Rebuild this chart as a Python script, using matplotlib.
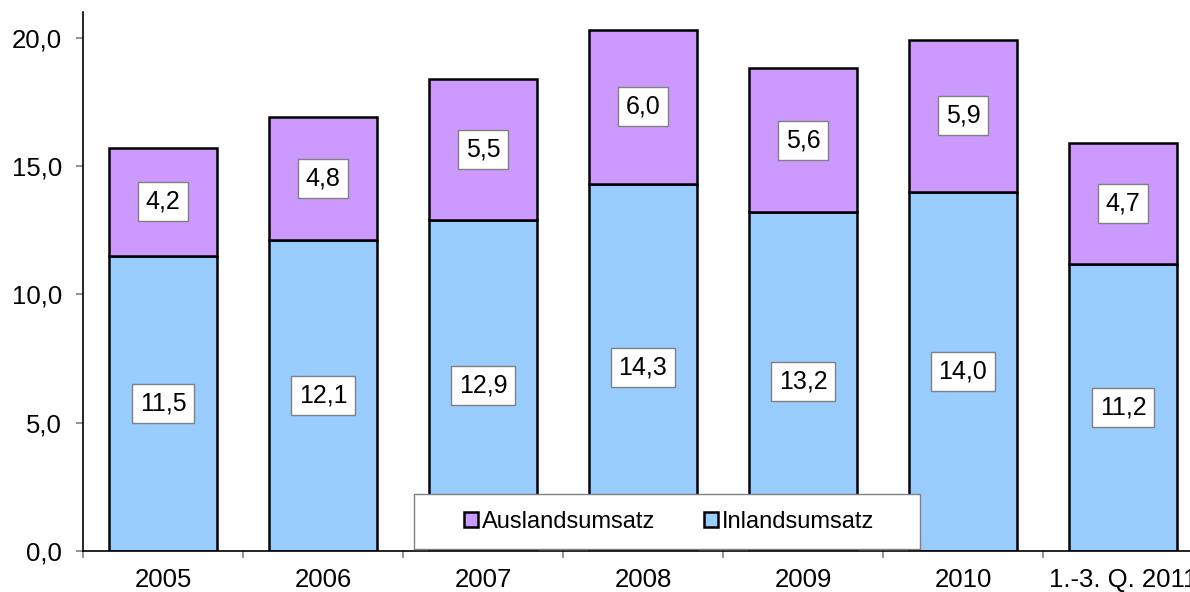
import numpy as np
import matplotlib.pyplot as plt
from matplotlib.patches import Patch, Rectangle

plt.rcParams['font.family'] = ['Liberation Sans', 'DejaVu Sans']

categories = ['2005', '2006', '2007', '2008', '2009', '2010', '1.-3. Q. 2011']
inland = [11.5, 12.1, 12.9, 14.3, 13.2, 14.0, 11.2]
ausland = [4.2, 4.8, 5.5, 6.0, 5.6, 5.9, 4.7]

blue = '#99CCFF'
purple = '#CC99FF'
W, H = 1190, 592

fig = plt.figure(figsize=(W / 100, H / 100), dpi=100)
# axes runs a bit past the right edge, like the original
ax = fig.add_axes([83 / W, 41 / H, 1120 / W, 539 / H])

x = np.arange(len(categories))
w = 0.67
ax.bar(x, inland, w, color=blue, edgecolor='black', linewidth=1.8, zorder=2)
ax.bar(x, ausland, w, bottom=inland, color=purple, edgecolor='black', linewidth=1.8, zorder=2)

box = dict(boxstyle='square,pad=0.3', facecolor='white', edgecolor='#808080', linewidth=1)
for i in range(len(categories)):
    ax.text(x[i], inland[i] / 2, f'{inland[i]:.1f}'.replace('.', ','), ha='center', va='center',
            fontsize=18, bbox=box, zorder=3)
    ax.text(x[i], inland[i] + ausland[i] / 2, f'{ausland[i]:.1f}'.replace('.', ','), ha='center',
            va='center', fontsize=18, bbox=box, zorder=3)

ax.set_xlim(-0.5, len(categories) - 0.5)
ax.set_ylim(0, 21)
ax.set_yticks([0, 5, 10, 15, 20])
ax.set_yticklabels(['0,0', '5,0', '10,0', '15,0', '20,0'], fontsize=18.5)
ax.set_xticks(x)
ax.set_xticklabels(categories, fontsize=18.5)
ax.set_xticks(np.arange(len(categories) + 1) - 0.5, minor=True)
ax.tick_params(axis='x', which='major', length=0, pad=12)
ax.tick_params(axis='x', which='minor', length=5, width=1.2, color='#808080', direction='out')
ax.tick_params(axis='y', length=5, width=1.2, color='#808080', pad=10)
for s in ['top', 'right']:
    ax.spines[s].set_visible(False)
ax.spines['left'].set_linewidth(1.2)
ax.spines['bottom'].set_linewidth(1.2)

# legend frame, drawn over the bars
fig.patches.append(Rectangle((414 / W, 1 - 549 / H), 506 / W, 55 / H, transform=fig.transFigure,
                             facecolor='white', edgecolor='#808080', linewidth=1, zorder=5))
handles = [Patch(facecolor=purple, edgecolor='black', linewidth=1.8, label='Auslandsumsatz'),
           Patch(facecolor=blue, edgecolor='black', linewidth=1.8, label='Inlandsumsatz')]
leg = fig.legend(handles=handles, loc='center', bbox_to_anchor=(669 / W, 1 - 522 / H),
                 ncol=2, fontsize=17, frameon=False, borderpad=0, borderaxespad=0,
                 handlelength=0.6, handleheight=0.6, handletextpad=0.15, columnspacing=2.1)
leg.set_zorder(6)

fig.savefig('out.png', dpi=100)
